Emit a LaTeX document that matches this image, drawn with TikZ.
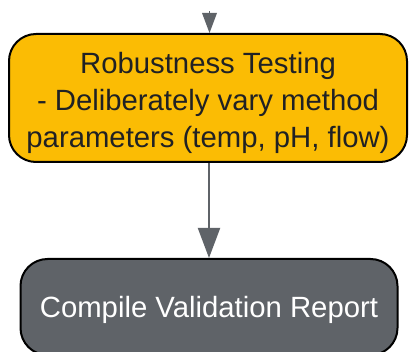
\documentclass[tikz,border=0pt]{standalone}
\usepackage{fontspec}
\setmainfont{Liberation Sans}
\usetikzlibrary{arrows.meta}
\definecolor{gyellow}{HTML}{FBBC04}
\definecolor{ggray}{HTML}{5F6368}
\definecolor{gdark}{HTML}{202124}
\tikzset{
  stepbox/.style={draw=black, line width=2pt, rounded corners=27pt, inner sep=0pt, align=center},
  flow/.style={draw=ggray, line width=2pt, -{Triangle[length=30pt,width=22pt]}},
  flowsmall/.style={draw=ggray, line width=0pt, -{Triangle[length=20pt,width=15pt]}},
}
\begin{document}
\begin{tikzpicture}[x=1pt,y=1pt]
\useasboundingbox (0,0) rectangle (409,-352);
\node[stepbox, fill=gyellow, text=gdark, minimum width=398pt, minimum height=128pt,
      font=\fontsize{29.3}{37}\selectfont] (rt) at (208,-98)
  {\rule{0pt}{31.5pt}Robustness Testing\\- Deliberately vary method\\parameters (temp, pH, flow)};
\node[stepbox, fill=ggray, text=white, minimum width=377pt, minimum height=96pt,
      text height=20pt, text depth=0pt, font=\fontsize{29.3}{34}\selectfont] (cr) at (209,-307)
  {Compile Validation Report};
\coordinate (in) at (209.5,-12);
\draw[flowsmall] (in) -- (in |- rt.north);
\draw[flow] (rt.south -| 209,0) -- (cr.north -| 209,0);
\end{tikzpicture}
\end{document}
